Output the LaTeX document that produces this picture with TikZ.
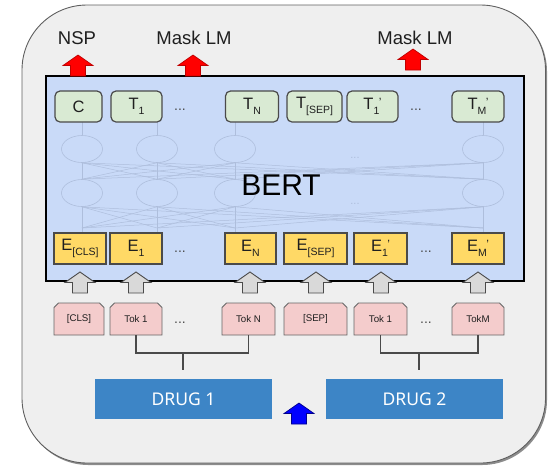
\documentclass[tikz,border=0pt]{standalone}
\usepackage{fontspec}
\setmainfont{Liberation Sans}
\newfontfamily\drugfont{Noto Sans}
\usetikzlibrary{shapes.geometric}

\definecolor{panel}{HTML}{EFEFEF}
\definecolor{panelline}{HTML}{5F5F5F}
\definecolor{bertblue}{HTML}{C9DAF8}
\definecolor{tgreen}{HTML}{D9EAD3}
\definecolor{eyellow}{HTML}{FFD966}
\definecolor{kpink}{HTML}{F4CCCC}
\definecolor{boxline}{HTML}{4A4A4A}
\definecolor{netline}{HTML}{AEBEDC}
\definecolor{drugblue}{HTML}{3D85C6}
\definecolor{txt}{HTML}{1F1F1F}

% lowered index, and lowered index followed by a raised prime
\newcommand\lowtx[1]{\raisebox{-5pt}{\fontsize{10.5}{10.5}\selectfont #1}}
\newcommand\lowpr[1]{\sbox0{\fontsize{10.5}{10.5}\selectfont #1}%
  \rlap{\raisebox{-5pt}{\usebox0}}\hspace{\wd0}\hspace{-0.5pt}%
  \raisebox{3.5pt}{\fontsize{12}{12}\selectfont '}}

% token box: outline with clipped top corners, then its named label node
% #1 name, #2 centre x, #3 width, #4 text
\newcommand\tokbox[4]{%
  \path[tokshape] ({#2-#3/2},335) -- ({#2-#3/2},307.5) -- ({#2-#3/2+4.5},303)
    -- ({#2+#3/2-4.5},303) -- ({#2+#3/2},307.5) -- ({#2+#3/2},335) -- cycle;
  \node[toklabel, minimum width=#3pt] (#1) at (#2,319) {#4};}

\tikzset{
  tbox/.style={draw=boxline, fill=tgreen, rounded corners=5pt, line width=1.2pt,
    minimum height=31pt, inner sep=0pt, text=txt, font=\fontsize{16.5}{16.5}\selectfont},
  ebox/.style={draw=boxline, fill=eyellow, line width=1.1pt,
    minimum height=31pt, inner sep=0pt, text=txt, font=\fontsize{16.5}{16.5}\selectfont},
  tokshape/.style={draw=boxline!85, fill=kpink, line width=0.9pt},
  toklabel/.style={minimum height=32pt, inner sep=0pt, text=txt,
    font=\fontsize{9.7}{9.7}\selectfont},
  drugbox/.style={fill=drugblue, minimum height=40pt, minimum width=177pt,
    inner sep=0pt, text=white, font=\drugfont\fontsize{17.5}{17.5}\selectfont},
  head/.style={text=txt, font=\fontsize{18.5}{18.5}\selectfont},
  dots/.style={text=txt!80, font=\fontsize{14}{14}\selectfont},
  neuron/.style={ellipse, draw=netline, line width=0.6pt, minimum width=41pt,
    minimum height=27pt, inner sep=0pt},
  net/.style={draw=netline, line width=0.5pt},
  bracket/.style={draw=boxline, line width=1.1pt},
  pics/uparrow/.style={code={
    \path[pic actions] (0,0) -- (15,10.5) -- (7.5,10.5) -- (7.5,21)
      -- (-7.5,21) -- (-7.5,10.5) -- (-15,10.5) -- cycle;}},
}

\begin{document}
\begin{tikzpicture}[x=1pt,y=-1pt]
\useasboundingbox (0,0) rectangle (548,467);

% outer panel with a soft shadow
\fill[black!45, rounded corners=65pt] (23.5,6.5) rectangle (547,465);
\filldraw[fill=panel, draw=panelline, line width=0.9pt, rounded corners=65pt]
  (22,5) rectangle (545.5,463);

% BERT block
\node[draw=black, fill=bertblue, line width=2.4pt, minimum width=478pt,
  minimum height=205pt, inner sep=0pt] (bert) at (285,178.5) {};

% faint network drawing inside the block
\foreach \i/\x in {1/82,2/157,3/235,4/483} {
  \node[neuron] (ua\i) at (\x,149) {};
  \node[neuron] (la\i) at (\x,193) {};
  \coordinate (tp\i) at (\x,122);
  \coordinate (bt\i) at (\x,232);
  \coordinate (lb\i) at (\x,228);
}
\foreach \i in {1,...,4} {
  \draw[net] (tp\i) -- (ua\i.north);
  \draw[net] (ua\i.south) -- (la\i.north);
  \draw[net] (la\i.south) -- (bt\i);
  \foreach \j in {1,...,4} {
    \draw[net] (la\i.north) -- (ua\j.south);
    \draw[net] (lb\i) -- (la\j.south);
  }
}
\node[text=netline, font=\fontsize{11}{11}\selectfont] (nd1) at (355,158) {...};
\node[text=netline, font=\fontsize{11}{11}\selectfont] (nd2) at (355,204) {...};

\node[text=black, font=\fontsize{30}{30}\selectfont] (berttext) at (281,185) {BERT};

% output tokens
\node[tbox, minimum width=47pt] (tC)   at (78.5,106.5) {C};
\node[tbox, minimum width=51pt] (tA)   at (136.5,106.5) {T\lowtx{1}};
\node[dots] (td1) at (180,110) {...};
\node[tbox, minimum width=53pt] (tN)   at (252,106.5) {T\lowtx{N}};
\node[tbox, minimum width=55pt] (tS)   at (314.5,106.5) {T\lowtx{[SEP]}};
\node[tbox, minimum width=51pt] (tB)   at (372.5,106.5) {T\lowpr{1}};
\node[dots] (td2) at (416,110) {...};
\node[tbox, minimum width=52pt] (tM)   at (478,106.5) {T\lowpr{M}};

% input embeddings
\node[ebox, minimum width=52pt] (eC) at (80,248.5) {E\lowtx{[CLS]}};
\node[ebox, minimum width=52pt] (eA) at (136,248.5) {E\lowtx{1}};
\node[dots] (ed1) at (180,252) {...};
\node[ebox, minimum width=51pt] (eN) at (250.5,248.5) {E\lowtx{N}};
\node[ebox, minimum width=63pt] (eS) at (315.5,248.5) {E\lowtx{[SEP]}};
\node[ebox, minimum width=53pt] (eB) at (380.5,248.5) {E\lowpr{1}};
\node[dots] (ed2) at (426,252) {...};
\node[ebox, minimum width=52pt] (eM) at (478,248.5) {E\lowpr{M}};

% tokens
\tokbox{kC}{79}{50}{[CLS]}
\tokbox{kA}{136}{52}{Tok 1}
\node[dots] (kd1) at (180,323) {...};
\tokbox{kN}{248.5}{53}{Tok N}
\tokbox{kS}{315.5}{63}{[SEP]}
\tokbox{kB}{380.5}{53}{Tok 1}
\node[dots] (kd2) at (426,323) {...};
\tokbox{kM}{478}{52}{TokM}

% grey arrows from tokens into the embeddings
\foreach \x in {80,136,250,316,381,478}
  \pic[fill=black!15, draw=boxline, line width=0.9pt] at (\x,272) {uparrow};

% output heads
\node[head] (nsp) at (77,38) {NSP};
\node[head] (mlm1) at (194,38) {Mask LM};
\node[head] (mlm2) at (415,38) {Mask LM};
\pic[fill=red, draw=red!75!black, line width=0.7pt] at (78,55) {uparrow};
\pic[fill=red, draw=red!75!black, line width=0.7pt] at (193,55) {uparrow};
\pic[fill=red, draw=red!75!black, line width=0.7pt] at (413,49) {uparrow};

% drug inputs
\node[drugbox] (d1) at (183.5,399) {DRUG 1};
\node[drugbox] (d2) at (414.5,399) {DRUG 2};
\pic[fill=blue, draw=blue!55!black, line width=0.7pt] at (299,403) {uparrow};

% brackets joining each drug to its tokens
\coordinate (j1) at (183,353);
\coordinate (s1) at (183,370);
\coordinate (j2) at (419,353);
\coordinate (s2) at (419,370);
\draw[bracket] (kA.south) |- (j1) -| (kN.south);
\draw[bracket] (j1) -- (s1);
\draw[bracket] (kB.south) |- (j2) -| (kM.south);
\draw[bracket] (j2) -- (s2);
\end{tikzpicture}
\end{document}
